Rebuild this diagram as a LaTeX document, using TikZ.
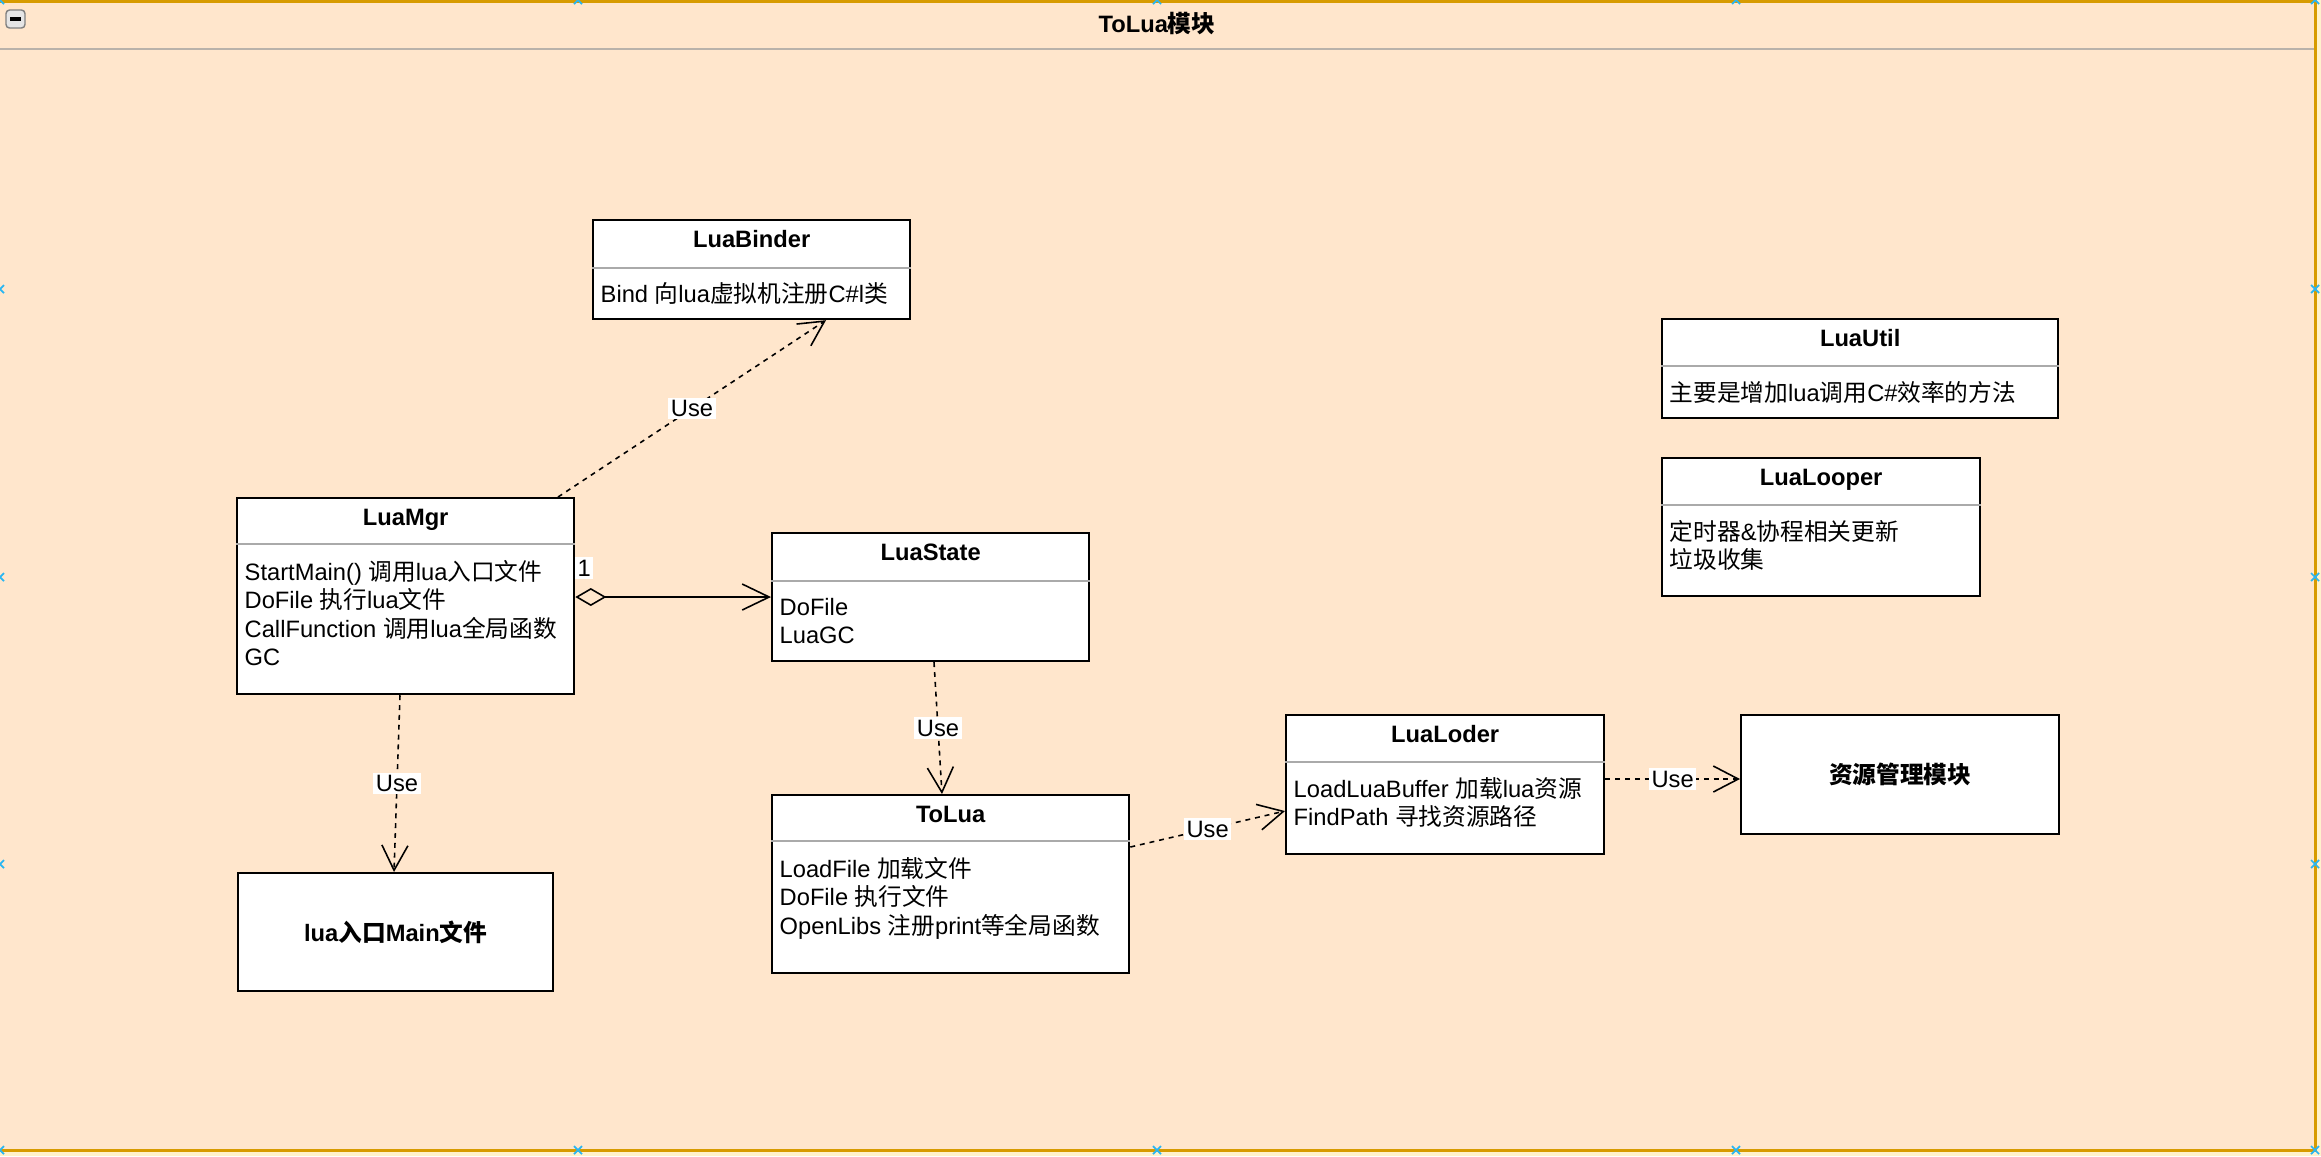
\documentclass[tikz,border=0pt]{standalone}
\usepackage{fontspec}
\setmainfont{Liberation Sans}
\newfontfamily\zhfont{Noto Sans CJK SC}
\newcommand{\cn}[1]{{\zhfont #1}}
\newcommand{\diagfont}{\fontsize{6.74pt}{8.1pt}\selectfont}
\newcommand{\topstrut}{\rule{0pt}{0.95em}}
\usetikzlibrary{arrows.meta,calc}
\definecolor{FrameFill}{RGB}{255,230,204}
\definecolor{FrameLine}{RGB}{215,155,0}
\definecolor{OuterFill}{RGB}{255,242,204}
\definecolor{HeadLine}{RGB}{185,178,170}
\definecolor{SepGray}{RGB}{170,170,170}
\definecolor{HandleBlue}{RGB}{41,182,242}

\tikzset{
  classbox/.style={draw=black, line width=0.6pt, fill=white, anchor=north west, inner sep=0pt},
  classname/.style={anchor=base, font=\diagfont\bfseries, inner sep=0pt},
  classbody/.style={anchor=north west, align=left, font=\diagfont, inner sep=0pt},
  sepline/.style={draw=SepGray, line width=0.45pt},
  uses/.style={draw, line width=0.45pt, dash pattern=on 1.4pt off 1.4pt,
    -{Straight Barb[length=0.25cm,width=0.26cm]}},
  owns/.style={draw, line width=0.45pt,
    {Diamond[open,length=0.31cm,width=0.18cm]}-{Straight Barb[length=0.27cm,width=0.26cm]}},
  uselabel/.style={fill=white, font=\diagfont, inner sep=0.7pt},
}

\begin{document}
\begin{tikzpicture}[x=0.01cm, y=-0.01cm]
\useasboundingbox (0,0) rectangle (2321,1156);
\fill[OuterFill] (0,0) rectangle (2321,1156);
\draw[fill=FrameFill, draw=FrameLine, line width=0.85pt] (-4,1.5) rectangle (2315,1150);
\draw[HeadLine, line width=0.6pt] (0,49) -- (2314,49);
\draw[draw=gray, fill=gray!20, rounded corners=1pt] (6,10) rectangle (25,28);
\draw[line width=1.1pt] (10,19) -- (21,19);
\node[classname] (title) at (1157,32) {ToLua\cn{模块}};

\node[classbox, minimum width=3.17cm, minimum height=0.99cm] (binder) at (592,219) {};
\draw[sepline] ($(binder.north west)+(0,49)$) -- ($(binder.north east)+(0,49)$);
\node[classname] (binder-name) at ($(binder.north)+(0,28)$) {LuaBinder};
\node[classbody] (binder-body) at ($(binder.north west)+(8,60)$) {\topstrut Bind \cn{向}lua\cn{虚拟机注册}C\#l\cn{类}};

\node[classbox, minimum width=3.37cm, minimum height=1.96cm] (mgr) at (236,497) {};
\draw[sepline] ($(mgr.north west)+(0,47)$) -- ($(mgr.north east)+(0,47)$);
\node[classname] (mgr-name) at ($(mgr.north)+(0,28)$) {LuaMgr};
\node[classbody] (mgr-body) at ($(mgr.north west)+(8,60)$) {\topstrut StartMain() \cn{调用}lua\cn{入口文件}\\
  DoFile \cn{执行}lua\cn{文件}\\
  CallFunction \cn{调用}lua\cn{全局函数}\\
  GC};

\node[classbox, minimum width=3.17cm, minimum height=1.28cm] (state) at (771,532) {};
\draw[sepline] ($(state.north west)+(0,49)$) -- ($(state.north east)+(0,49)$);
\node[classname] (state-name) at ($(state.north)+(0,28)$) {LuaState};
\node[classbody] (state-body) at ($(state.north west)+(8,60)$) {\topstrut DoFile\\
  LuaGC};

\node[classbox, minimum width=3.57cm, minimum height=1.78cm] (tolua) at (771,794) {};
\draw[sepline] ($(tolua.north west)+(0,47)$) -- ($(tolua.north east)+(0,47)$);
\node[classname] (tolua-name) at ($(tolua.north)+(0,28)$) {ToLua};
\node[classbody] (tolua-body) at ($(tolua.north west)+(8,60)$) {\topstrut LoadFile \cn{加载文件}\\
  DoFile \cn{执行文件}\\
  OpenLibs \cn{注册}print\cn{等全局函数}};

\node[classbox, minimum width=3.18cm, minimum height=1.39cm] (loder) at (1285,714) {};
\draw[sepline] ($(loder.north west)+(0,48)$) -- ($(loder.north east)+(0,48)$);
\node[classname] (loder-name) at ($(loder.north)+(0,28)$) {LuaLoder};
\node[classbody] (loder-body) at ($(loder.north west)+(8,60)$) {\topstrut LoadLuaBuffer \cn{加载}lua\cn{资源}\\
  FindPath \cn{寻找资源路径}};

\node[classbox, minimum width=3.96cm, minimum height=0.99cm] (util) at (1661,318) {};
\draw[sepline] ($(util.north west)+(0,48)$) -- ($(util.north east)+(0,48)$);
\node[classname] (util-name) at ($(util.north)+(0,28)$) {LuaUtil};
\node[classbody] (util-body) at ($(util.north west)+(8,60)$) {\topstrut \cn{主要是增加}lua\cn{调用}C\#\cn{效率的方法}};

\node[classbox, minimum width=3.18cm, minimum height=1.38cm] (looper) at (1661,457) {};
\draw[sepline] ($(looper.north west)+(0,48)$) -- ($(looper.north east)+(0,48)$);
\node[classname] (looper-name) at ($(looper.north)+(0,28)$) {LuaLooper};
\node[classbody] (looper-body) at ($(looper.north west)+(8,60)$) {\topstrut \cn{定时器}\&\cn{协程相关更新}\\
  \cn{垃圾收集}};

\node[classbox, minimum width=3.15cm, minimum height=1.18cm] (entry) at (237,872) {};
\node[font=\diagfont\bfseries] (entry-name) at (entry.center) {lua\cn{入口}Main\cn{文件}};

\node[classbox, minimum width=3.18cm, minimum height=1.19cm] (res) at (1740,714) {};
\node[font=\diagfont\bfseries] (res-name) at (res.center) {\cn{资源管理模块}};

\draw[uses] ($(mgr.north west)+(322,0)$) -- node[uselabel] {Use} ($(binder.south west)+(234,0)$);
\draw[uses] ($(mgr.south west)+(164,0)$) -- node[uselabel] {Use} ($(entry.north west)+(157,0)$);
\draw[owns] ($(mgr.north east)+(0,100)$) -- ($(state.north west)+(0,65)$);
\node[uselabel] (mult) at ($(mgr.north east)+(9,71)$) {1};
\draw[uses] ($(state.south west)+(163,0)$) -- node[uselabel] {Use} ($(tolua.north west)+(171,0)$);
\draw[uses] ($(tolua.north east)+(0,53)$) -- node[uselabel] {Use} ($(loder.north west)+(0,97)$);
\draw[uses] ($(loder.north east)+(0,65)$) -- node[uselabel] {Use} ($(res.north west)+(0,65)$);

\foreach \hx in {0,578,1157,1736,2315}
  \foreach \hy in {0,1150}
    \draw[HandleBlue, line width=0.5pt] ({\hx-4},{\hy-4}) -- ({\hx+4},{\hy+4}) ({\hx-4},{\hy+4}) -- ({\hx+4},{\hy-4});
\foreach \hx in {0,2315}
  \foreach \hy in {289,577,864}
    \draw[HandleBlue, line width=0.5pt] ({\hx-4},{\hy-4}) -- ({\hx+4},{\hy+4}) ({\hx-4},{\hy+4}) -- ({\hx+4},{\hy-4});
\end{tikzpicture}
\end{document}
